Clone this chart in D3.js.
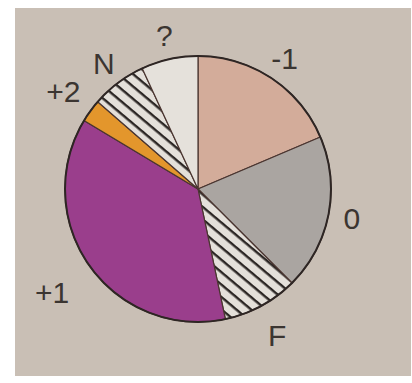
<!DOCTYPE html>
<html>
<head>
<meta charset="utf-8">
<script src="https://cdn.jsdelivr.net/npm/d3@7"></script>
<style>
  html, body { margin: 0; padding: 0; background: #ffffff; }
  svg { display: block; }
  .label { font-family: "Liberation Sans", Arial, sans-serif; font-size: 30px; fill: #3b3531; }
</style>
</head>
<body>
<div id="chart"></div>
<script>
// slices, clockwise from 12 o'clock (percent)
var categories = ["-1", "0", "F", "+1", "+2", "N", "?"];
var values = [18.6, 18.9, 9.2, 36.9, 2.8, 6.7, 6.9];
var fills = ["#d3ac9a", "#aaa5a1", "url(#hatch)", "#9a3e8c", "#e3962c", "url(#hatch)", "#e5e1db"];

var svg = d3.select("#chart")
    .append("svg")
    .attr("width", 412)
    .attr("height", 383);

// photo background
svg.append("rect")
    .attr("x", 15)
    .attr("y", 8)
    .attr("width", 396)
    .attr("height", 368)
    .attr("fill", "#c9bfb5");

var defs = svg.append("defs");
var hatch = defs.append("pattern")
    .attr("id", "hatch")
    .attr("patternUnits", "userSpaceOnUse")
    .attr("width", 9.5)
    .attr("height", 9.5)
    .attr("patternTransform", "rotate(40)");
hatch.append("rect")
    .attr("width", 9.5)
    .attr("height", 9.5)
    .attr("fill", "#e4e0da");
hatch.append("line")
    .attr("x1", 0).attr("y1", 1.2)
    .attr("x2", 9.5).attr("y2", 1.2)
    .attr("stroke", "#2b2624")
    .attr("stroke-width", 2.4);

var cx = 198, cy = 189, radius = 133;
var g = svg.append("g").attr("transform", "translate(" + cx + "," + cy + ")");

var data = categories.map(function (c, i) {
    return { name: c, value: values[i], fill: fills[i] };
});

var pie = d3.pie()
    .sort(null)
    .value(function (d) { return d.value; });

var arc = d3.arc()
    .innerRadius(0)
    .outerRadius(radius);

var labelArc = d3.arc()
    .innerRadius(160)
    .outerRadius(160);

var arcs = pie(data);

g.selectAll("path.slice")
    .data(arcs)
    .enter()
    .append("path")
    .attr("class", "slice")
    .attr("d", arc)
    .attr("fill", function (d) { return d.data.fill; })
    .attr("stroke", "#4a3530")
    .attr("stroke-width", 1.2)
    .attr("stroke-linejoin", "round");

// outer rim
g.append("circle")
    .attr("r", radius)
    .attr("fill", "none")
    .attr("stroke", "#2e2624")
    .attr("stroke-width", 2);

g.selectAll("text.label")
    .data(arcs)
    .enter()
    .append("text")
    .attr("class", "label")
    .attr("text-anchor", "middle")
    .attr("dominant-baseline", "central")
    .attr("transform", function (d) {
        var p = labelArc.centroid(d);
        // outer labels sit a bit further off the rim
        var k = (d.data.name === "+1") ? 1.12 : (d.data.name === "+2" || d.data.name === "F") ? 1.04 : 0.98;
        return "translate(" + (p[0] * k) + "," + (p[1] * k) + ")";
    })
    .text(function (d) { return d.data.name; });
</script>
</body>
</html>
